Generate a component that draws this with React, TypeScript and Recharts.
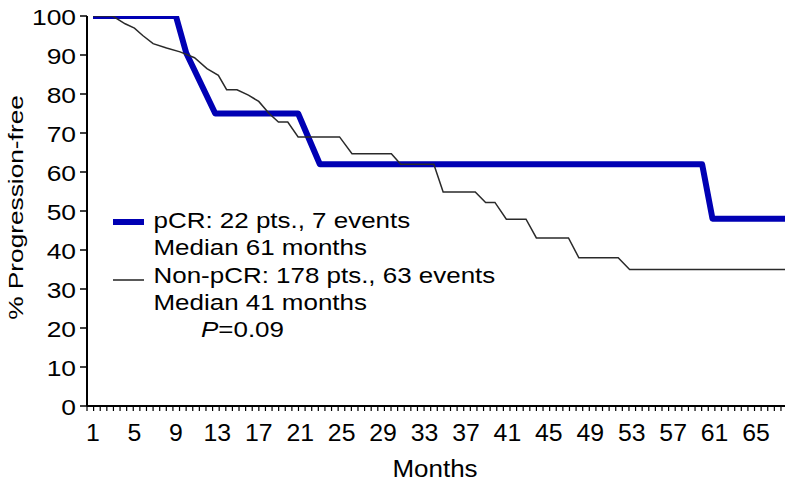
import React from "react"
import { LineChart, Line, XAxis, YAxis, Label } from "recharts"

// pCR group
const pcrMonths = [1, 9, 10, 12.8, 20.8, 22.9, 59.8, 60.8, 67.8]
const pcrValues = [100, 100, 90.5, 75, 75, 62, 62, 48, 48]

// non-pCR group
const nonMonths = [
  1, 2.9, 4.1, 5, 5.8, 6.8, 8.1, 9.4, 10.8, 12, 13.1, 13.9, 14.9, 16, 17, 18,
  18.9, 19.8, 20.8, 24.8, 26, 29.8, 30.7, 33.9, 34.8, 37.9, 38.9, 39.8, 40.9,
  42.8, 43.8, 46.9, 47.9, 51.7, 52.8, 67.8,
]
const nonValues = [
  100, 100, 98, 96.9, 95, 92.9, 91.8, 90.8, 89.3, 86.5, 84.8, 81.1, 81.1, 79.7,
  78.1, 75, 72.8, 72.8, 69, 69, 64.7, 64.7, 62, 62, 54.9, 54.9, 52.2, 52.2,
  47.9, 47.9, 43.1, 43.1, 38, 38, 35, 35,
]

const xLabels = [1, 5, 9, 13, 17, 21, 25, 29, 33, 37, 41, 45, 49, 53, 57, 61, 65]
const yTicks = [0, 10, 20, 30, 40, 50, 60, 70, 80, 90, 100]

const X_MIN = 0.42
const X_MAX = 67.8
const MINOR_STEP = 0.638

const pcrData = pcrMonths.map((m, i) => ({ month: m, value: pcrValues[i] }))
const nonData = nonMonths.map((m, i) => ({ month: m, value: nonValues[i] }))

const minorTicks: number[] = []
for (let t = X_MIN; t <= X_MAX + 0.001; t += MINOR_STEP) minorTicks.push(+t.toFixed(3))
const allTicks = [...minorTicks, ...xLabels].sort((a, b) => a - b)

const FONT = "'Liberation Sans', Arial, Helvetica, sans-serif"

// the source font is a wide Helvetica, so glyphs get stretched along the text
function WideText(props: any) {
  const { x, y, size = 22, sx = 1.18, anchor = "start", rotate = 0, children } = props
  const tf = `translate(${x} ${y})${rotate ? ` rotate(${rotate})` : ""} scale(${sx} 1)`
  return (
    <text transform={tf} textAnchor={anchor} fontSize={size} fontFamily={FONT} fill="#000">
      {children}
    </text>
  )
}

function MonthTick(props: any) {
  const { x, y, payload } = props
  const v = payload.value
  if (xLabels.includes(v)) {
    return (
      <WideText x={x} y={y + 35} size={23} sx={1.08} anchor="middle">
        {v}
      </WideText>
    )
  }
  return <line x1={x} x2={x} y1={y} y2={y + 5} stroke="#000" strokeWidth={1.2} />
}

function PercentTick(props: any) {
  const { x, y, payload } = props
  return (
    <WideText x={x - 4} y={y + 8.5} size={22} sx={1.2} anchor="end">
      {payload.value}
    </WideText>
  )
}

function Notes() {
  return (
    <g>
      <line x1={113} x2={144} y1={222} y2={222} stroke="#0000b4" strokeWidth={6} />
      <WideText x={153.5} y={228}>pCR: 22 pts., 7 events</WideText>
      <WideText x={153.5} y={255}>Median 61 months</WideText>
      <line x1={113} x2={144} y1={280} y2={280} stroke="#222" strokeWidth={1.5} />
      <WideText x={153.5} y={283}>Non-pCR: 178 pts., 63 events</WideText>
      <WideText x={153.5} y={310}>Median 41 months</WideText>
      <WideText x={201} y={337}>
        <tspan fontStyle="italic">P</tspan>
        <tspan>{"=0.09"}</tspan>
      </WideText>
    </g>
  )
}

export default function App() {
  return (
    <div style={{ position: "absolute", left: 0, top: 0, width: 796, height: 483, background: "#fff" }}>
      <LineChart width={796} height={483} margin={{ top: 16, right: 11, bottom: 0, left: 0 }}>
        <XAxis
          type="number"
          dataKey="month"
          domain={[X_MIN, X_MAX]}
          ticks={allTicks}
          interval={0}
          tick={<MonthTick />}
          tickLine={false}
          tickSize={0}
          tickMargin={0}
          height={77}
          allowDataOverflow
          axisLine={{ stroke: "#000", strokeWidth: 2 }}
        >
          <Label
            content={() => (
              <WideText x={435} y={477} size={23} sx={1.13} anchor="middle">
                Months
              </WideText>
            )}
          />
        </XAxis>
        <YAxis
          type="number"
          domain={[0, 100]}
          ticks={yTicks}
          interval={0}
          width={87}
          tickSize={7}
          tickMargin={0}
          allowDataOverflow
          tick={<PercentTick />}
          tickLine={{ stroke: "#000", strokeWidth: 1.5 }}
          axisLine={{ stroke: "#000", strokeWidth: 2 }}
        >
          <Label
            content={() => (
              <WideText x={23} y={207.5} size={21} sx={1.25} anchor="middle" rotate={-90}>
                % Progression-free
              </WideText>
            )}
          />
        </YAxis>
        <Line
          data={pcrData}
          dataKey="value"
          type="linear"
          stroke="#0000b4"
          strokeWidth={6}
          strokeLinejoin="round"
          dot={false}
          activeDot={false}
          isAnimationActive={false}
        />
        <Line
          data={nonData}
          dataKey="value"
          type="linear"
          stroke="#2a2a2a"
          strokeWidth={1.5}
          dot={false}
          activeDot={false}
          isAnimationActive={false}
        />
        <Notes />
      </LineChart>
    </div>
  )
}
